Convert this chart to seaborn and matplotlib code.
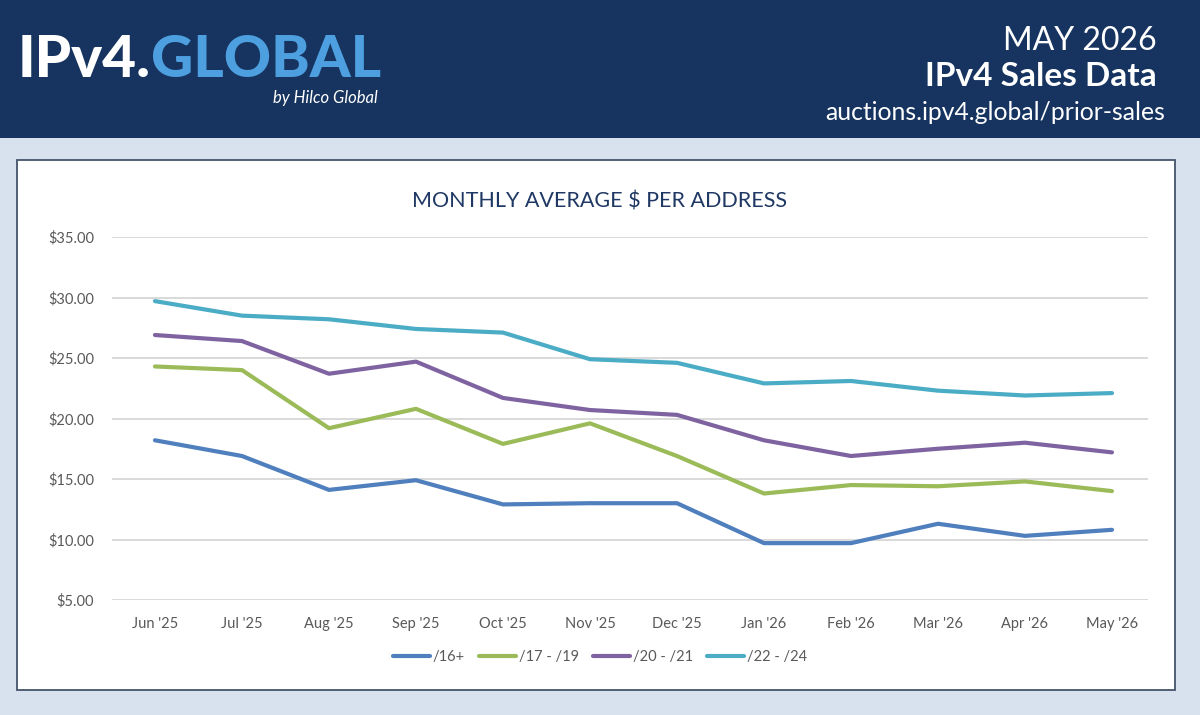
import pandas as pd
import seaborn as sns
import matplotlib.pyplot as plt
from matplotlib.patches import Rectangle

months = ["Jun '25", "Jul '25", "Aug '25", "Sep '25", "Oct '25", "Nov '25",
          "Dec '25", "Jan '26", "Feb '26", "Mar '26", "Apr '26", "May '26"]

s16 = [18.2, 16.9, 14.1, 14.9, 12.9, 13.0, 13.0, 9.7, 9.7, 11.3, 10.3, 10.8]
s17_19 = [24.3, 24.0, 19.2, 20.8, 17.9, 19.6, 16.9, 13.8, 14.5, 14.4, 14.8, 14.0]
s20_21 = [26.9, 26.4, 23.7, 24.7, 21.7, 20.7, 20.3, 18.2, 16.9, 17.5, 18.0, 17.2]
s22_24 = [29.7, 28.5, 28.2, 27.4, 27.1, 24.9, 24.6, 22.9, 23.1, 22.3, 21.9, 22.1]

series_names = ["/16+", "/17 - /19", "/20 - /21", "/22 - /24"]
colors = ["#4f7fbd", "#9bbb59", "#7f63a1", "#4bacc6"]
y_ticks = [5, 10, 15, 20, 25, 30, 35]

rows = []
for name, vals in zip(series_names, [s16, s17_19, s20_21, s22_24]):
    for m, v in zip(months, vals):
        rows.append({"month": m, "price": v, "size": name})
df = pd.DataFrame(rows)

sns.set_theme(style="white")
plt.rcParams["font.family"] = ["Lato", "DejaVu Sans"]

navy = "#16345f"
fig = plt.figure(figsize=(12, 7.15), dpi=100)
fig.patch.set_facecolor("#d7e2ee")

# header band and white panel, kept behind the axes
fig.patches.append(Rectangle((0, 1 - 138 / 715), 1, 138 / 715, transform=fig.transFigure,
                             facecolor=navy, edgecolor="none", zorder=-5))
fig.patches.append(Rectangle((17 / 1200, 1 - 690 / 715), 1158 / 1200, 530 / 715,
                             transform=fig.transFigure, facecolor="white",
                             edgecolor="#44546a", linewidth=1.3, zorder=-5))

ax = fig.add_axes([112 / 1200, 1 - 600 / 715, 1036 / 1200, 363 / 715])
ax.set_facecolor("none")

# logo: white prefix, light blue word chained right after it
logo = fig.text(18 / 1200, 1 - 77 / 715, "IPv4.", color="white", fontsize=42,
                fontweight="black", va="baseline", ha="left")
ax.annotate("GLOBAL", xy=(1, 0), xycoords=logo, color="#4d9fe0", fontsize=42,
            fontweight="black", va="bottom", ha="left", annotation_clip=False)
fig.text(378 / 1200, 1 - 90 / 715, "by Hilco Global", color="white", fontsize=12,
         style="italic", va="top", ha="right")

# header right
fig.text(1157 / 1200, 1 - 41 / 715, "MAY 2026", color="white", fontsize=23,
         ha="right", va="center")
fig.text(1157 / 1200, 1 - 76 / 715, "IPv4 Sales Data", color="white", fontsize=24,
         fontweight="bold", ha="right", va="center")
fig.text(1165 / 1200, 1 - 113 / 715, "auctions.ipv4.global/prior-sales", color="white",
         fontsize=17.8, ha="right", va="center")

sns.lineplot(data=df, x="month", y="price", hue="size", palette=colors,
             hue_order=series_names, sort=False, linewidth=3, ax=ax, legend=False)

ax.set_ylim(5, 35)
ax.set_xlim(-0.494, 11.414)
ax.set_yticks(y_ticks)
ax.set_yticklabels([f"${t:.2f}" for t in y_ticks])
ax.grid(axis="y", color="#d9d9d9", linewidth=1.4)
ax.set_axisbelow(True)
for sp in ax.spines.values():
    sp.set_visible(False)
ax.tick_params(axis="both", length=0, labelsize=10.5, labelcolor="#595959")
ax.tick_params(axis="y", pad=13)
ax.tick_params(axis="x", pad=12)
ax.set_xlabel("")
ax.set_ylabel("")

fig.text(0.5, 1 - 201 / 715, "MONTHLY AVERAGE $ PER ADDRESS", color="#1f3864",
         fontsize=15.5, ha="center", va="center")

handles = [plt.Line2D([], [], color=c, linewidth=3, solid_capstyle="round") for c in colors]
fig.legend(handles, series_names, loc="center", bbox_to_anchor=(0.5, 1 - 657 / 715),
           ncol=4, frameon=False, fontsize=10.5, handlelength=2.5, columnspacing=1.0,
           handletextpad=0.2, labelcolor="#595959")

fig.savefig("out.png", dpi=100, facecolor=fig.get_facecolor())
